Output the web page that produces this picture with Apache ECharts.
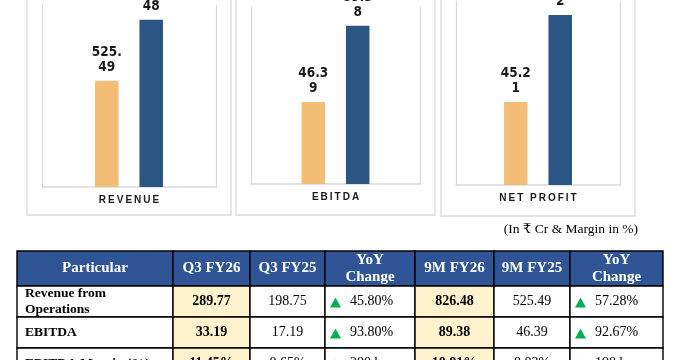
<!DOCTYPE html>
<html>
<head>
<meta charset="utf-8">
<script src="https://cdn.jsdelivr.net/npm/echarts@6/dist/echarts.min.js"></script>
<style>html,body{margin:0;padding:0;background:#fff;}#c{width:682px;height:360px;}</style>
</head>
<body>
<div id="c"></div>
<script>
// ---- chart data ----
const panelCats = ['REVENUE', 'EBITDA', 'NET PROFIT'];
const fy25_9m = [525.49, 46.39, 45.21];
const fy26_9m = [826.48, 89.38, 92.62];

// ---- table data ----
const headers = ['Particular', 'Q3 FY26', 'Q3 FY25', 'YoY\nChange', '9M FY26', '9M FY25', 'YoY\nChange'];
const rowLabels = ['Revenue from\nOperations', 'EBITDA', 'EBITDA Margin (%)'];
const q3fy26 = ['289.77', '33.19', '11.45%'];
const q3fy25 = ['198.75', '17.19', '8.65%'];
const q3yoy = ['45.80%', '93.80%', '280 bps'];
const m9fy26 = ['826.48', '89.38', '10.81%'];
const m9fy25 = ['525.49', '46.39', '8.83%'];
const m9yoy = ['57.28%', '92.67%', '198 bps'];
const unitNote = '(In ₹ Cr & Margin in %)';

// ---- layout ----
const grids = [
  {left: 42, top: 5, width: 174, height: 182},
  {left: 251, top: 7, width: 169, height: 177},
  {left: 456, top: 1.5, width: 164, height: 183.5}
];
const axisMax = [900, 100, 100];
const boxes = [[27, 204, 215], [236, 199, 215], [441, 194, 216]];
const colEdges = [0, 156, 233, 308, 398, 477, 553, 646];
const rowEdges = [0, 35, 66, 97, 128];
const tableVisible = 109;
const ORANGE = '#F4BD76', BLUE = '#2B5583', HEAD = '#2F5597', CREAM = '#FFF2CC';
const narrow = "'DejaVu Sans Condensed',sans-serif";
const sans = "'Liberation Sans',Arial,sans-serif";
const serif = "'Liberation Serif','DejaVu Serif',serif";

const THIN = '\u2009';
const spaced = s => s.split(' ').map(w => w.split('').join(THIN)).join(THIN + ' ' + THIN);
const wrapLabel = p => { const s = String(p.value); return s.slice(0, 4) + '\n' + s.slice(4); };

const cells = [];
headers.forEach((h, c) => cells.push({c, r: 0, text: h}));
rowLabels.forEach((lab, i) => {
  [lab, q3fy26[i], q3fy25[i], q3yoy[i], m9fy26[i], m9fy25[i], m9yoy[i]]
    .forEach((t, c) => cells.push({c, r: i + 1, text: t}));
});

const xAxes = [], yAxes = [], series = [], gridOpts = [];
grids.forEach((g, i) => {
  gridOpts.push(Object.assign({containLabel: false}, g));
  xAxes.push({
    type: 'category', gridIndex: i, data: [panelCats[i]],
    axisLine: {show: true, lineStyle: {color: '#d9d9d9', width: 1.5}},
    axisTick: {show: false},
    axisLabel: {formatter: v => spaced(v), fontFamily: sans, fontWeight: 'bold', fontSize: 10, color: '#1a1a1a', margin: 8}
  });
  const yBase = {type: 'value', gridIndex: i, min: 0, max: axisMax[i], splitLine: {show: false},
    axisLabel: {show: false}, axisTick: {show: false},
    axisLine: {show: true, lineStyle: {color: '#d9d9d9', width: 1.2}}};
  yAxes.push(Object.assign({position: 'left'}, yBase));
  yAxes.push(Object.assign({position: 'right'}, yBase));
  const lbl = {show: true, position: 'top', distance: 6, formatter: wrapLabel, fontFamily: narrow,
    fontWeight: 'bold', fontSize: 13.5, lineHeight: 15, color: '#1a1a1a'};
  series.push({type: 'bar', xAxisIndex: i, yAxisIndex: i * 2, data: [fy25_9m[i]], barWidth: 23.5, barGap: '89%',
    itemStyle: {color: ORANGE}, label: lbl, silent: true, animation: false});
  series.push({type: 'bar', xAxisIndex: i, yAxisIndex: i * 2, data: [fy26_9m[i]], barWidth: 23.5, barGap: '89%',
    itemStyle: {color: BLUE}, label: lbl, silent: true, animation: false});
});

// table grid (only the visible part of the table fits in the canvas)
gridOpts.push({left: 17, top: 251, width: 646, height: tableVisible});
xAxes.push({type: 'value', gridIndex: 3, min: 0, max: colEdges[colEdges.length - 1], show: false});
yAxes.push({type: 'value', gridIndex: 3, min: 0, max: tableVisible, inverse: true, show: false});
series.push({
  type: 'custom', xAxisIndex: 3, yAxisIndex: 6, animation: false, silent: true, clip: false,
  data: cells.map(cl => [cl.c, cl.r]),
  renderItem: (params, api) => {
    const cl = cells[params.dataIndex];
    const p0 = api.coord([colEdges[cl.c], rowEdges[cl.r]]);
    const p1 = api.coord([colEdges[cl.c + 1], rowEdges[cl.r + 1]]);
    const x = p0[0], y = p0[1], w = p1[0] - p0[0], h = p1[1] - p0[1];
    const yc = y + h / 2;
    const fill = cl.r === 0 ? HEAD : (cl.c === 1 || cl.c === 4) ? CREAM : '#fff';
    const children = [{type: 'rect', shape: {x, y, width: w, height: h}, style: {fill, stroke: '#000', lineWidth: 1.4}}];
    if (cl.r === 0) {
      children.push({type: 'text', x: x + w / 2, y: yc, style: {text: cl.text, fill: '#fff',
        fontFamily: serif, fontWeight: 'bold', fontSize: 15, lineHeight: 17, align: 'center', verticalAlign: 'middle'}});
    } else if (cl.c === 0) {
      children.push({type: 'text', x: x + 8, y: yc, style: {text: cl.text, fill: '#000',
        fontFamily: serif, fontWeight: 'bold', fontSize: 13.5, lineHeight: 16, align: 'left', verticalAlign: 'middle'}});
    } else if (cl.c === 3 || cl.c === 6) {
      children.push({type: 'polygon', shape: {points: [[x + 10.5, yc - 4], [x + 16, yc + 6], [x + 5, yc + 6]]}, style: {fill: '#00B050'}});
      children.push({type: 'text', x: x + 25, y: yc, style: {text: cl.text, fill: '#000',
        fontFamily: serif, fontSize: 14, align: 'left', verticalAlign: 'middle'}});
    } else {
      const bold = (cl.c === 1 || cl.c === 4);
      children.push({type: 'text', x: x + w / 2, y: yc, style: {text: cl.text, fill: '#000',
        fontFamily: serif, fontWeight: bold ? 'bold' : 'normal', fontSize: 14, align: 'center', verticalAlign: 'middle'}});
    }
    return {type: 'group', children};
  }
});

const graphics = boxes.map(b => ({type: 'rect', silent: true, z: -10,
  shape: {x: b[0], y: -30, width: b[1], height: b[2] + 30}, style: {fill: 'none', stroke: '#d9d9d9', lineWidth: 1.3}}));
graphics.push({type: 'text', right: 44, top: 222, style: {text: unitNote, fill: '#000', fontFamily: serif, fontSize: 13.5}});

const chart = echarts.init(document.getElementById('c'), null, {renderer: 'canvas'});
chart.setOption({
  animation: false,
  backgroundColor: '#fff',
  grid: gridOpts, xAxis: xAxes, yAxis: yAxes, series, graphic: graphics
});
</script>
</body>
</html>
